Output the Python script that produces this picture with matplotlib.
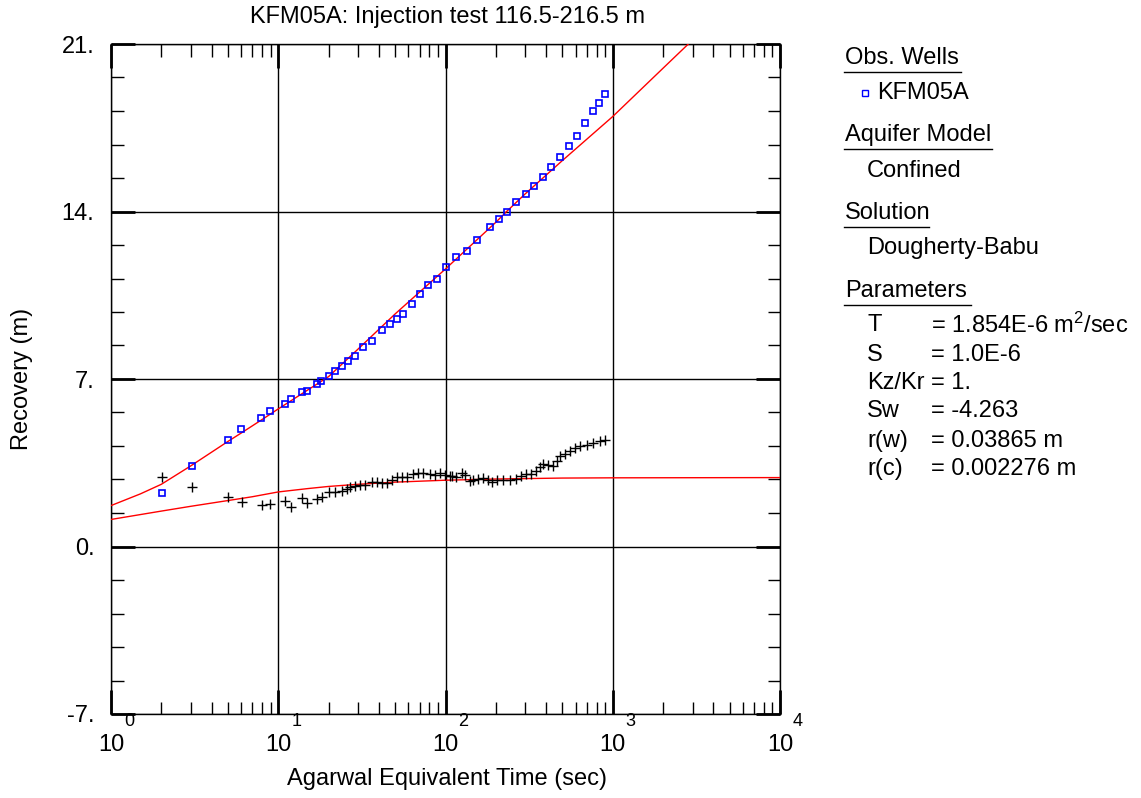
import matplotlib
matplotlib.use("Agg")
import matplotlib.pyplot as plt
import numpy as np

plt.rcParams['font.family'] = ['Liberation Sans', 'DejaVu Sans']
plt.rcParams['mathtext.fontset'] = 'custom'
plt.rcParams['mathtext.rm'] = 'Liberation Sans'
plt.rcParams['mathtext.it'] = 'Liberation Sans'

# observed recovery (blue squares)
obs_t = [2.01, 3.04, 4.99, 6.01, 7.92, 8.93, 10.9, 12.0, 13.8, 14.9, 17.0, 18.1,
         20.0, 21.8, 23.9, 26.2, 28.7, 32.3, 36.3, 41.5, 46.6, 51.2, 56.0, 62.9,
         70.6, 79.0, 88.5, 101, 116, 134, 154, 184, 210, 232, 265, 304, 340,
         384, 430, 486, 545, 610, 680, 764, 830, 898]
obs_s = [2.24, 3.38, 4.46, 4.90, 5.39, 5.66, 5.96, 6.18, 6.45, 6.50, 6.81, 6.90,
         7.12, 7.34, 7.53, 7.77, 7.98, 8.33, 8.58, 9.03, 9.28, 9.51, 9.72, 10.14,
         10.56, 10.91, 11.19, 11.67, 12.09, 12.37, 12.79, 13.34, 13.70, 14.00, 14.38,
         14.74, 15.08, 15.43, 15.85, 16.27, 16.72, 17.17, 17.68, 18.22, 18.55, 18.89]

# derivative (black crosses)
der_t = [2.03, 3.04, 4.99, 6.05, 7.96, 8.93, 10.97, 12.0, 13.9, 14.9, 17.0, 18.2,
         20.1, 21.8, 23.9, 25.6, 26.8, 28.8, 30.9, 33.0, 36.3, 38.8, 41.5, 44.5,
         47.6, 51.0, 54.6, 58.5, 64.2, 68.7, 73.5, 80.8, 86.6, 92.7, 99.1, 106,
         109, 116, 125, 130, 140, 146, 157, 168, 180, 189, 202, 221, 242, 265,
         284, 304, 326, 350, 367, 384, 411, 442, 463, 486, 521, 558, 597, 639,
         700, 767, 841, 900]
der_s = [2.90, 2.48, 2.05, 1.85, 1.74, 1.76, 1.92, 1.64, 2.02, 1.81, 2.00, 2.06,
         2.27, 2.27, 2.30, 2.41, 2.48, 2.51, 2.55, 2.58, 2.69, 2.69, 2.66, 2.66,
         2.76, 2.90, 2.90, 2.90, 3.04, 3.08, 3.06, 3.01, 3.00, 3.06, 3.00, 2.93,
         2.93, 2.90, 3.06, 3.00, 2.72, 2.79, 2.83, 2.86, 2.76, 2.69, 2.76, 2.79,
         2.79, 2.83, 2.93, 3.01, 3.04, 3.15, 3.31, 3.46, 3.41, 3.38, 3.59, 3.80,
         3.87, 4.01, 4.12, 4.18, 4.26, 4.33, 4.40, 4.46]

# Dougherty-Babu type curve
fit_t = [1, 1.5, 2, 3, 5, 6, 7.9, 10, 20, 30, 50, 100, 200, 232, 300, 500,
         1000, 2000, 2831]
fit_s = [1.71, 2.20, 2.60, 3.37, 4.39, 4.74, 5.28, 5.75, 7.10, 8.25, 9.72, 11.60,
         13.55, 14.00, 14.74, 16.13, 17.97, 19.99, 21.0]

# derivative curve
fitd_t = [1, 2, 3, 5, 7, 10, 15, 20, 30, 50, 100, 200, 500, 1000, 10000]
fitd_s = [1.13, 1.48, 1.68, 1.92, 2.08, 2.28, 2.42, 2.51, 2.60, 2.69, 2.77, 2.82,
          2.86, 2.87, 2.88]

W, H = 1141, 798
fig = plt.figure(figsize=(W / 100, H / 100), dpi=100)
ax = fig.add_axes([111 / W, 1 - 714 / H, (780 - 111) / W, (714 - 44) / H])

ax.plot(fit_t, fit_s, color='red', lw=1.0, zorder=3)
ax.plot(fitd_t, fitd_s, color='red', lw=1.0, zorder=3)
ax.plot(obs_t, obs_s, ls='none', marker='s', ms=5, mfc='none', mec='#0000ff',
        mew=1.2, zorder=4)
ax.plot(der_t, der_s, ls='none', marker='+', ms=7, mec='black', mew=1.0, zorder=4)

ax.set_xscale('log')
ax.set_xlim(1, 1e4)
ax.set_ylim(-7, 21)
ax.set_yticks([-7, 0, 7, 14, 21])
ax.set_yticklabels(['-7.', '0.', '7.', '14.', '21.'], fontsize=17)
ax.set_yticks(np.arange(-7, 21.01, 1.4), minor=True)
ax.xaxis.set_minor_locator(matplotlib.ticker.LogLocator(base=10, subs=np.arange(2, 10)))
ax.xaxis.set_minor_formatter(matplotlib.ticker.NullFormatter())
ax.set_xticks([1, 10, 100, 1000, 10000])
ax.set_xticklabels([])
ax.tick_params(which='major', direction='in', length=17, width=2, top=True,
               right=True, pad=12)
ax.tick_params(which='minor', direction='in', length=9, width=1, top=True, right=True)
ax.grid(True, which='major', color='black', lw=1.0)
for s in ax.spines.values():
    s.set_linewidth(1.0)

# x tick labels 10^n
for k in range(5):
    xp = 111 + k * 167.25
    fig.text(xp / W, 1 - 745 / H, '10', fontsize=17, ha='center', va='center')
    fig.text((xp + 13) / W, 1 - 722 / H, str(k), fontsize=13, ha='left', va='center')

fig.text(447 / W, 1 - 779 / H, 'Agarwal Equivalent Time (sec)', fontsize=17,
         ha='center', va='center')
fig.text(22 / W, 1 - 379 / H, 'Recovery (m)', fontsize=17, rotation=90,
         ha='center', va='center')
fig.text(447 / W, 1 - 17 / H, 'KFM05A: Injection test 116.5-216.5 m', fontsize=17,
         ha='center', va='center')

# side panel
def head(txt, y, x1):
    fig.text(845 / W, 1 - y / H, txt, fontsize=17, ha='left', va='center')
    fig.add_artist(plt.Line2D([844 / W, x1 / W], [1 - (y + 14) / H, 1 - (y + 14) / H],
                              color='black', lw=1.0))

def line(txt, y, x=867):
    fig.text(x / W, 1 - y / H, txt, fontsize=17, ha='left', va='center')

head('Obs. Wells', 58, 961)
fig.add_artist(plt.Line2D([865 / W], [1 - 93 / H], marker='s', ms=4, mfc='none',
                          mec='#0000ff', mew=1.0))
line('KFM05A', 93, 877)
head('Aquifer Model', 135, 992)
line('Confined', 171)
head('Solution', 213, 929)
line('Dougherty-Babu', 248)
head('Parameters', 291, 971)

params = [('T', '= 1.854E-6 m$^2$/sec'), ('S', '= 1.0E-6'), ('Kz/Kr', '= 1.'),
          ('Sw', '= -4.263'), ('r(w)', '= 0.03865 m'), ('r(c)', '= 0.002276 m')]
rows_y = [325, 355, 383, 411, 441, 469]
for (name, val), yy in zip(params, rows_y):
    line(name, yy)
    line(val, yy, 931)

fig.savefig('out.png', dpi=100)
